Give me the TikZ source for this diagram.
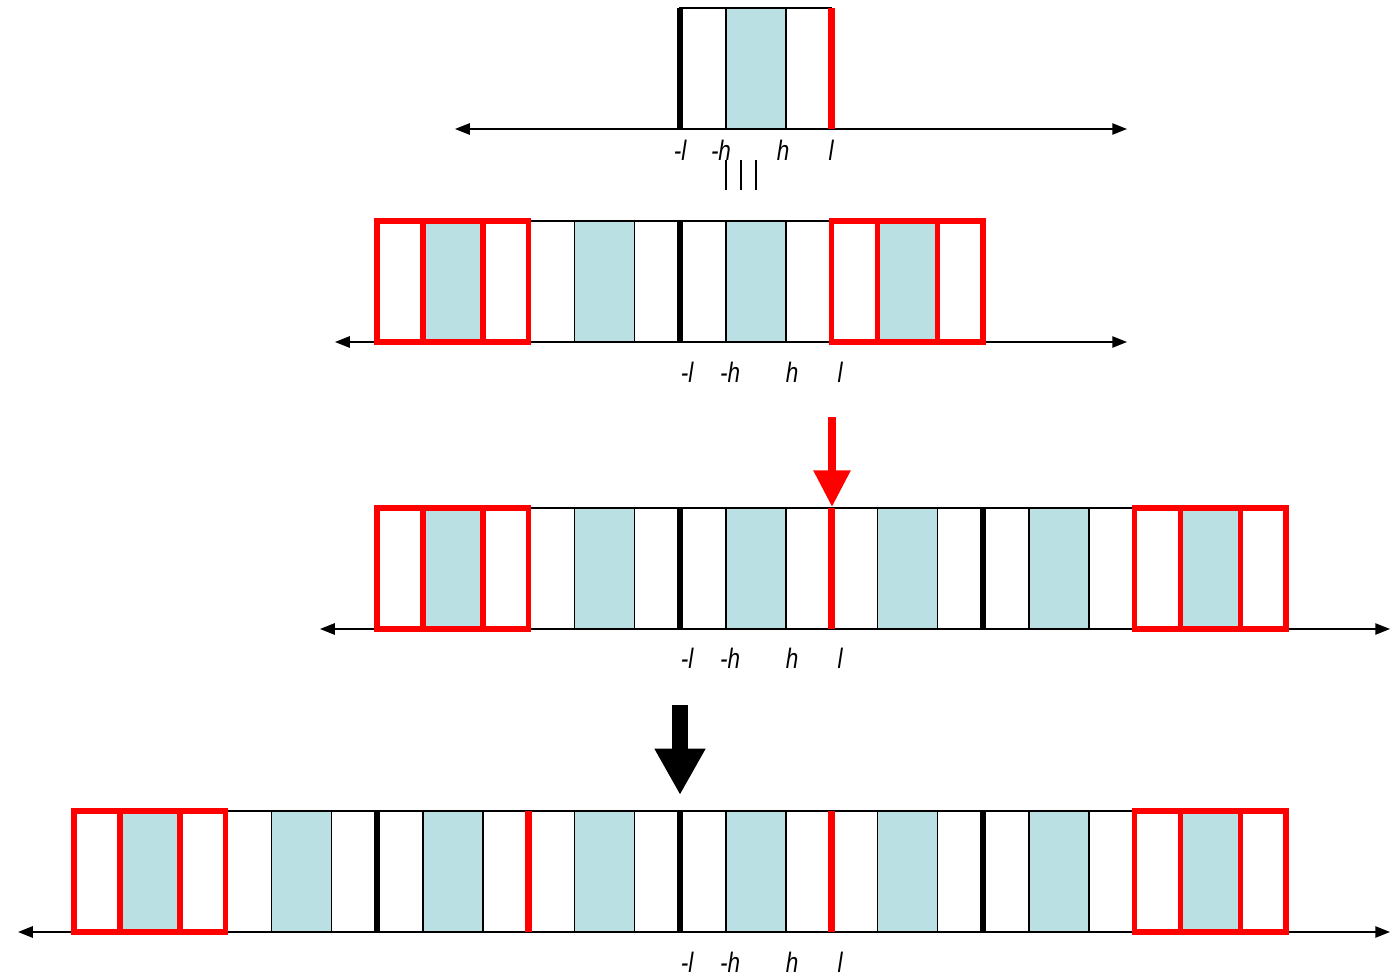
\documentclass[tikz,border=0pt]{standalone}
\usepackage{fontspec}
\setmainfont{Liberation Sans}
\newfontfamily\ticklabelfont[FakeStretch=0.8]{Liberation Sans}
\usetikzlibrary{arrows.meta}
\definecolor{cellblue}{RGB}{187, 224, 227}
\definecolor{boxred}{RGB}{255, 0, 0}

% one period of the pattern: white, shaded, white
\newcommand{\unitcell}[2]{%
  \draw[cellline] (#1,#2) rectangle (#1+151.5,#2+121);
  \filldraw[cellline, fill=cellblue] (#1+46,#2) rectangle (#1+106,#2+121);
}
% the same period, framed in red
\newcommand{\redcell}[2]{%
  \draw[redline] (#1,#2) rectangle (#1+151.5,#2+121);
  \filldraw[redline, fill=cellblue] (#1+46,#2) rectangle (#1+106,#2+121);
}

\begin{document}
\begin{tikzpicture}[
    x=0.025cm, y=-0.025cm,
    cellline/.style={draw=black, line width=1.4pt},
    redline/.style={draw=boxred, line width=3.6pt},
    blackbar/.style={draw=black, line width=3.8pt},
    redbar/.style={draw=boxred, line width=4.5pt},
    axis/.style={draw=black, line width=1.3pt, {Triangle[length=10.5pt, width=8pt]}-{Triangle[length=10.5pt, width=8pt]}},
    tick/.style={font=\ticklabelfont\fontsize{20}{23}\selectfont\itshape, inner sep=0pt},
    shift arrow/.style={line width=#1}
]
\useasboundingbox (0,0) rectangle (1393,977);

% Axes
\coordinate (a1l) at (455,129);  \coordinate (a1r) at (1127,129);
\coordinate (a2l) at (335,342);  \coordinate (a2r) at (1127,342);
\coordinate (a3l) at (320,629);  \coordinate (a3r) at (1390,629);
\coordinate (a4l) at (18,932);   \coordinate (a4r) at (1390,932);
\draw[axis] (a1l) -- (a1r);
\draw[axis] (a2l) -- (a2r);
\draw[axis] (a3l) -- (a3r);
\draw[axis] (a4l) -- (a4r);

% Row 1: single cell
\unitcell{680}{8}
\draw[blackbar] (680,8) -- (680,129);
\draw[redbar] (831.5,8) -- (831.5,129);

% Row 2
\unitcell{528.5}{221}
\unitcell{680}{221}
\draw[blackbar] (680,221) -- (680,342);
\redcell{377}{221}
\redcell{831.5}{221}

% Row 3
\foreach \k in {-1,...,2} {\unitcell{680+\k*151.5}{508}}
\draw[blackbar] (680,508) -- (680,629);
\draw[blackbar] (983,508) -- (983,629);
\draw[redbar] (831.5,508) -- (831.5,629);
\redcell{377}{508}
\redcell{1134.5}{508}

% Row 4
\foreach \k in {-3,...,2} {\unitcell{680+\k*151.5}{811}}
\draw[blackbar] (377,811) -- (377,932);
\draw[blackbar] (680,811) -- (680,932);
\draw[blackbar] (983,811) -- (983,932);
\draw[redbar] (528.5,811) -- (528.5,932);
\draw[redbar] (831.5,811) -- (831.5,932);
\redcell{74}{811}
\redcell{1134.5}{811}

% Labels
\node[tick] (ml1) at (680,150) {-l};
\node[tick] (mh1) at (721,150) {-h};
\node[tick] (ph1) at (783,150) {h};
\node[tick] (pl1) at (831,150) {l};
\foreach \row/\y in {2/372, 3/658, 4/962} {
  \node[tick] (ml\row) at (687,\y) {-l};
  \node[tick] (mh\row) at (730,\y) {-h};
  \node[tick] (ph\row) at (792,\y) {h};
  \node[tick] (pl\row) at (840,\y) {l};
}

% Equivalence mark
\foreach \x in {726,741,756} {\draw[line width=1.1pt] (\x,160) -- (\x,190);}

% Shift arrows
\coordinate (redtop) at (832,417);  \coordinate (redtip) at (832,507);
\coordinate (blacktop) at (680,705); \coordinate (blacktip) at (680,795);
\draw[shift arrow=5.7pt, boxred, -{Triangle[length=26pt, width=25pt]}] (redtop) -- (redtip);
\draw[shift arrow=11.3pt, black, -{Triangle[length=33pt, width=34pt]}] (blacktop) -- (blacktip);
\end{tikzpicture}
\end{document}
